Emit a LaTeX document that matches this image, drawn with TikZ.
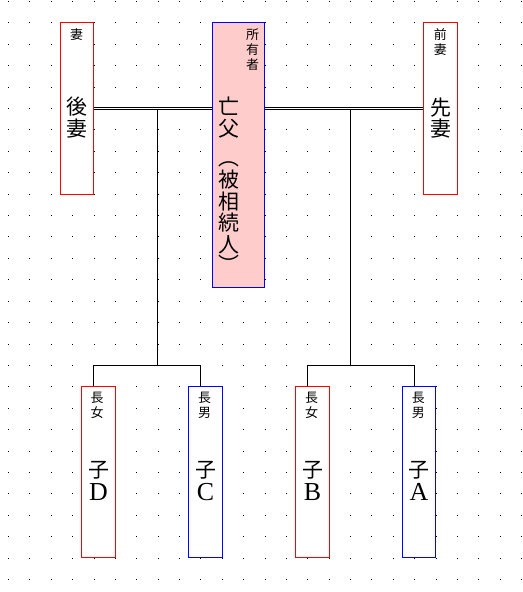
\documentclass[tikz,border=0pt]{standalone}
\usepackage{fontspec}
\usetikzlibrary{backgrounds}
\setmainfont{Liberation Serif}
\newfontfamily\jp{Noto Sans CJK JP}
\definecolor{boxred}{RGB}{255,0,0}
\definecolor{boxblue}{RGB}{0,0,255}
\definecolor{pinkfill}{RGB}{255,204,204}
\begin{document}
\begin{tikzpicture}[x=1bp,y=-1bp,
  person/.style={draw, line width=1bp, fill=white, inner sep=0pt, outer sep=0pt, anchor=north west},
  female/.style={person, draw=boxred},
  male/.style={person, draw=boxblue},
  small/.style={font=\jp\fontsize{13}{15}\selectfont, align=center, inner sep=0pt, anchor=north},
  big/.style={font=\jp\fontsize{21}{21.7}\selectfont, align=center, inner sep=0pt, anchor=north},
  kid/.style={font=\jp\fontsize{21}{23.3}\selectfont, align=center, inner sep=0pt, anchor=north},
  link/.style={line width=1bp, black},
  marriage/.style={line width=1bp, double=white, double distance=1bp, black}]
\useasboundingbox (0,0) rectangle (523,592);
% boxes
\node[female, minimum width=33bp, minimum height=172bp] (wifeL) at (60.5,22.5) {};
\node[male, fill=pinkfill, minimum width=52bp, minimum height=265bp] (father) at (212.5,22.5) {};
\node[female, minimum width=34bp, minimum height=172bp] (wifeR) at (423.5,22.5) {};
\node[female, minimum width=34bp, minimum height=171bp] (kidD) at (81.5,386.5) {};
\node[male, minimum width=34bp, minimum height=171bp] (kidC) at (188.5,386.5) {};
\node[female, minimum width=34bp, minimum height=171bp] (kidB) at (295.5,386.5) {};
\node[male, minimum width=33bp, minimum height=171bp] (kidA) at (402.5,386.5) {};
% junction coordinates
\coordinate (jL) at (157.5,108.5);
\coordinate (jR) at (350.5,108.5);
\coordinate (vL) at (157.5,110);
\coordinate (vR) at (350.5,110);
\coordinate (bL) at (157.5,365.5);
\coordinate (bR) at (350.5,365.5);
\coordinate (dD) at (93.5,365.5);
\coordinate (dC) at (200.5,365.5);
\coordinate (dB) at (307.5,365.5);
\coordinate (dA) at (414.5,365.5);
\begin{pgfonlayer}{background}
\fill[white] (0,0) rectangle (523,592);
% dot grid
\foreach \i in {0,...,24}{
  \foreach \j in {0,...,27}{
    \pgfmathsetmacro{\xx}{round(8+21.375*\i)}
    \pgfmathsetmacro{\yy}{round(1+21.407*\j)}
    \fill[black] (\xx,\yy) rectangle ++(1,1);
  }
}
% connectors
\draw[marriage] (wifeL.center |- jL) -- (father.center |- jL);
\draw[marriage] (father.center |- jR) -- (wifeR.center |- jR);
\draw[link] (vL) -- (bL);
\draw[link] (vR) -- (bR);
\draw[link] (dD |- kidD.center) -- (dD) -- (dC) -- (dC |- kidC.center);
\draw[link] (dB |- kidB.center) -- (dB) -- (dA) -- (dA |- kidA.center);
\end{pgfonlayer}
% texts
\node[small] (tWifeL) at (76.5,28.3) {妻};
\node[big] (nWifeL) at (76.8,97) {後\\妻};
\node[small] (tFather) at (252.5,28.3) {所\\有\\者};
\node[big] (nFather) at (229,96.7) {亡\\父\\[8.3pt]︵\\[0pt]被\\相\\続\\人\\[-1.7pt]︶};
\node[small] (tWifeR) at (440.3,28.3) {前\\妻};
\node[big] (nWifeR) at (440.7,97.3) {先\\妻};
\node[small] (tKidD) at (97,392) {長\\女};
\node[small] (tKidC) at (204.5,392) {長\\男};
\node[small] (tKidB) at (311.5,392) {長\\女};
\node[small] (tKidA) at (418.3,392) {長\\男};
\node[kid] (nKidD) at (98.5,461) {子\\{\rmfamily\fontsize{26}{23.3}\selectfont D}};
\node[kid] (nKidC) at (205.5,461) {子\\{\rmfamily\fontsize{26}{23.3}\selectfont C}};
\node[kid] (nKidB) at (312.5,461) {子\\{\rmfamily\fontsize{26}{23.3}\selectfont B}};
\node[kid] (nKidA) at (419,461) {子\\{\rmfamily\fontsize{26}{23.3}\selectfont A}};
\end{tikzpicture}
\end{document}
